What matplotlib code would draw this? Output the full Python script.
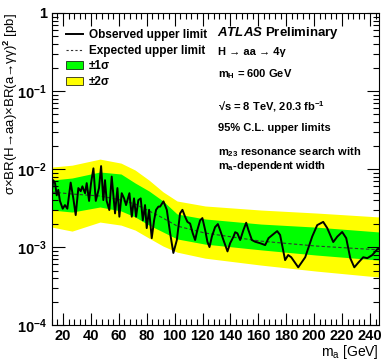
import numpy as np
import matplotlib.pyplot as plt
import matplotlib.ticker as mticker
from matplotlib.lines import Line2D
from matplotlib.patches import Patch

plt.rcParams['font.family'] = ['Liberation Sans', 'DejaVu Sans']
plt.rcParams['font.weight'] = 'bold'
plt.rcParams['mathtext.fontset'] = 'custom'
plt.rcParams['mathtext.rm'] = 'Liberation Sans:bold'
plt.rcParams['mathtext.it'] = 'Liberation Sans:bold:italic'
plt.rcParams['mathtext.bf'] = 'Liberation Sans:bold'
plt.rcParams['mathtext.sf'] = 'Liberation Sans:bold'
plt.rcParams['mathtext.default'] = 'rm'

# observed limit (pb) vs m_a (GeV)
obs_m = [12.0, 13.0, 14.3, 15.5, 16.6, 17.8, 19.8, 21.4, 23.1, 25.5, 27.4, 29.1, 31.0, 32.7,
         33.9, 35.8, 37.0, 38.7, 40.1, 41.8, 43.5, 45.8, 47.3, 48.9, 50.1, 51.3, 53.2, 54.9,
         57.3, 59.0, 60.4, 62.1, 63.8, 65.2, 67.6, 69.3, 70.9, 72.4, 74.0, 75.7, 77.2, 78.8,
         80.0, 81.7, 83.6, 85.3, 86.7, 88.4, 89.6, 92.0, 94.4, 96.8, 99.1, 101.6, 103.9,
         105.6, 107.5, 109.2, 111.1, 113.0, 114.7, 116.3, 118.3, 119.9, 121.9, 123.5, 125.0,
         126.7, 129.0, 131.0, 132.6, 135.0, 137.9, 139.8, 142.2, 143.4, 145.0, 147.0, 149.3,
         151.3, 152.9, 155.4, 157.7, 161.3, 164.9, 167.3, 170.5, 173.5, 175.6, 179.2, 181.4,
         183.6, 188.6, 193.6, 198.6, 202.2, 206.5, 209.4, 213.7, 216.6, 220.1, 223.0, 225.9,
         228.8, 231.6, 235.2, 238.1, 241.7, 245.3, 246.5]
obs_lim = [5.1e-3, 7.2e-3, 6.6e-3, 4.6e-3, 5.4e-3, 3.9e-3, 3.1e-3, 3.45e-3, 3.1e-3, 6.7e-3,
           4.2e-3, 2.57e-3, 5.7e-3, 5.2e-3, 6.0e-3, 4.9e-3, 6.6e-3, 3.9e-3, 6.6e-3, 1.02e-2,
           3.9e-3, 5.7e-3, 1.09e-2, 4.0e-3, 7.2e-3, 3.9e-3, 2.98e-3, 8.0e-3, 2.7e-3, 5.7e-3,
           2.45e-3, 4.9e-3, 4.2e-3, 3.45e-3, 4.9e-3, 2.45e-3, 4.2e-3, 2.45e-3, 4.0e-3, 4.2e-3,
           2.2e-3, 3.45e-3, 1.75e-3, 3.0e-3, 1.3e-3, 2.2e-3, 3.0e-3, 3.3e-3, 3.3e-3, 3.85e-3,
           3.0e-3, 1.5e-3, 8.4e-4, 1.23e-3, 2.7e-3, 3.0e-3, 2.45e-3, 2.1e-3, 2.0e-3, 1.5e-3,
           1.23e-3, 1.65e-3, 2.2e-3, 2.35e-3, 1.65e-3, 1.17e-3, 1.0e-3, 1.36e-3, 1.8e-3,
           1.97e-3, 1.65e-3, 1.23e-3, 8.8e-4, 1.12e-3, 1.36e-3, 1.55e-3, 1.5e-3, 1.23e-3,
           1.65e-3, 2.05e-3, 1.65e-3, 1.23e-3, 1.17e-3, 1.12e-3, 1.06e-3, 1.3e-3, 1.45e-3,
           1.6e-3, 1.43e-3, 6.8e-4, 7.9e-4, 7.4e-4, 5.5e-4, 7.4e-4, 1.36e-3, 1.91e-3, 2.1e-3,
           1.75e-3, 1.16e-3, 1.36e-3, 1.56e-3, 1.3e-3, 7.2e-4, 5.5e-4, 6.3e-4, 7.4e-4, 7.2e-4,
           7.9e-4, 9.4e-4, 9.5e-4]

# expected limit and bands
exp_m = [12.1, 26.5, 46.5, 61.6, 71.7, 81.7, 91.7, 101.8, 121.9, 162.0, 201.5, 246.7]
exp_lim = [5.07e-3, 4.78e-3, 4.51e-3, 4.0e-3, 3.56e-3, 2.9e-3, 2.35e-3, 1.86e-3, 1.51e-3,
           1.19e-3, 1.03e-3, 9.2e-4]
p2s = [1.06e-2, 1.12e-2, 1.34e-2, 1.19e-2, 9.7e-3, 7.2e-3, 5.1e-3, 3.89e-3, 3.36e-3,
       2.98e-3, 2.73e-3, 2.43e-3]
p1s = [7.22e-3, 7.67e-3, 9.16e-3, 8.63e-3, 6.62e-3, 5.22e-3, 3.89e-3, 2.65e-3, 2.29e-3,
       1.97e-3, 1.8e-3, 1.56e-3]
m1s = [2.98e-3, 2.81e-3, 3.26e-3, 2.9e-3, 2.43e-3, 1.91e-3, 1.56e-3, 1.27e-3, 1.09e-3,
       9.2e-4, 7.9e-4, 6.8e-4]
m2s = [1.8e-3, 1.6e-3, 2.09e-3, 1.91e-3, 1.65e-3, 1.3e-3, 1.03e-3, 8.6e-4, 7.2e-4,
       5.87e-4, 4.92e-4, 4.12e-4]

fig = plt.figure(figsize=(3.84, 3.6), dpi=100)
ax = fig.add_axes([0.135, 0.097, 0.852, 0.867])

ax.fill_between(exp_m, m2s, p2s, color='#ffff00', lw=0)
ax.fill_between(exp_m, m1s, p1s, color='#00ff00', lw=0)
ax.plot(exp_m, exp_lim, color='#333333', lw=0.8, ls=(0, (3, 2)))
ax.plot(obs_m, obs_lim, color='black', lw=1.4, solid_joinstyle='round')

ax.set_yscale('log')
ax.set_xlim(12, 246.5)
ax.set_ylim(1e-4, 1)

ax.xaxis.set_major_locator(mticker.MultipleLocator(20))
ax.xaxis.set_minor_locator(mticker.MultipleLocator(4))
ax.set_xticks(np.arange(20, 241, 20))
ax.yaxis.set_major_locator(mticker.LogLocator(base=10, numticks=10))
ax.yaxis.set_minor_locator(mticker.LogLocator(base=10, subs=np.arange(2, 10), numticks=10))
ax.yaxis.set_minor_formatter(mticker.NullFormatter())
ax.yaxis.set_major_formatter(mticker.FuncFormatter(
    lambda v, p: '1' if v >= 0.99 else r'$10^{%d}$' % round(np.log10(v))))
ax.tick_params(which='both', direction='in', top=True, right=True, labelsize=10.5)
ax.tick_params(which='major', length=9, width=0.8)
ax.tick_params(which='minor', length=4.5, width=0.8)
ax.tick_params(axis='x', pad=2.5)
for s in ax.spines.values():
    s.set_linewidth(0.8)

ax.set_xlabel(r'm$_{\mathregular{a}}$ [GeV]', fontsize=10, ha='right', va='top')
ax.xaxis.set_label_coords(1.0, -0.056)
ax.set_ylabel('σ×BR(H→aa)×BR(a→γγ)$^{2}$ [pb]', fontsize=9.5, ha='right', va='center')
ax.yaxis.set_label_coords(-0.125, 1.0)

handles = [Line2D([], [], color='black', lw=1.4),
           Line2D([], [], color='#333333', lw=0.8, ls=(0, (2, 2))),
           Patch(facecolor='#00ff00', edgecolor='black', lw=0.5),
           Patch(facecolor='#ffff00', edgecolor='black', lw=0.5)]
labels = ['Observed upper limit', 'Expected upper limit', '±1σ', '±2σ']
ax.legend(handles, labels, loc='upper left', bbox_to_anchor=(0.03, 0.963), frameon=False,
          fontsize=8.5, handlelength=1.4, handletextpad=0.5, labelspacing=0.3,
          borderaxespad=0)

tx = 0.505
ax.text(tx, 0.935, r'$\mathit{ATLAS}$ Preliminary', transform=ax.transAxes, fontsize=9.5,
        va='center')
ax.text(tx + 0.003, 0.875, 'H → aa → 4γ', transform=ax.transAxes, fontsize=8, va='center')
ax.text(tx + 0.003, 0.805, r'm$_{\mathregular{H}}$ = 600 GeV', transform=ax.transAxes,
        fontsize=8, va='center')
ax.text(tx + 0.003, 0.70, r'√s = 8 TeV, 20.3 fb$^{\mathregular{-1}}$', transform=ax.transAxes,
        fontsize=8, va='center')
ax.text(tx + 0.003, 0.63, '95% C.L. upper limits', transform=ax.transAxes, fontsize=8,
        va='center')
ax.text(tx + 0.003, 0.555, r'm$_{\mathregular{23}}$ resonance search with',
        transform=ax.transAxes, fontsize=8, va='center')
ax.text(tx + 0.003, 0.51, r'm$_{\mathregular{a}}$-dependent width', transform=ax.transAxes,
        fontsize=8, va='center')

fig.savefig('out.png', dpi=100)
